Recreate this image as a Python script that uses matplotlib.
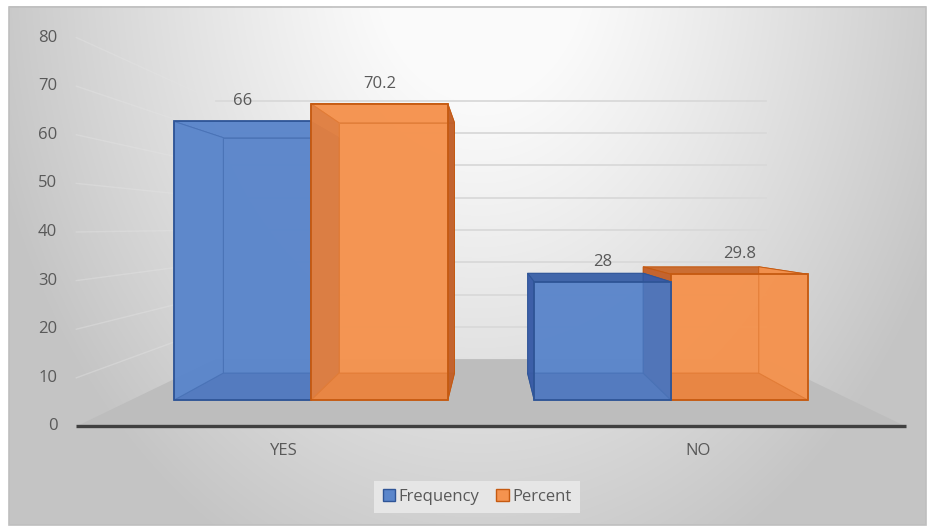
import numpy as np
import matplotlib
matplotlib.use("Agg")
import matplotlib.pyplot as plt
from matplotlib.patches import Polygon, Patch, Rectangle

# ---------------- data ----------------
categories = ["YES", "NO"]
series_names = ["Frequency", "Percent"]
frequency = [66, 28]
percent = [70.2, 29.8]
yticks = [0, 10, 20, 30, 40, 50, 60, 70, 80]

# ---------------- styles ----------------
FONT = "Open Sans"
FS = 12
TXT = "#595959"
series_style = [
    dict(base="#5B86CB", side="#3A5CA6", bottom="#4266AE", top="#3F63A8", edge="#2F5597"),
    dict(base="#F5934F", side="#C0602C", bottom="#D86E2C", top="#C86B30", edge="#C55A11"),
]

W, H = 934, 527
fig = plt.figure(figsize=(W / 100, H / 100), dpi=100)

# ---------------- background gradient ----------------
bg = fig.add_axes([0, 0, 1, 1])
bg.set_axis_off()
yy, xx = np.mgrid[0:H, 0:W]
d = np.sqrt(((xx - 480) / 470.0) ** 2 + ((yy + 40) / 620.0) ** 2)
g = np.clip(260 - 58 * d ** 1.2, 196, 250) / 255.0
outside = (xx < 9) | (xx > 925) | (yy < 6) | (yy > 524)
g[outside] = 1.0
bg.imshow(np.dstack([g, g, g]), extent=(0, W, H, 0), aspect="auto", interpolation="bilinear")
bg.set_xlim(0, W)
bg.set_ylim(H, 0)
bg.add_patch(Rectangle((8.5, 6.5), 917, 518, fill=False, edgecolor="#BFBFBF", lw=1.2))

# ---------------- main (front-plane) axes ----------------
X0PIX, XSCALE = 311.0, 360.0     # pixel x of category 0, pixels per category
Y0PIX, YSCALE = 400.0, 4.22      # pixel y (from top) of value 0, pixels per unit
ax = fig.add_axes([0, 0, 1, 1])
ax.set_axis_off()
ax.patch.set_alpha(0)
ax.set_xlim(-X0PIX / XSCALE, (W - X0PIX) / XSCALE)
ax.set_ylim((Y0PIX - H) / YSCALE, Y0PIX / YSCALE)

VX = 0.5
VV = (Y0PIX - 226.0) / YSCALE
S_FLOOR, S_BAR_BACK, S_WALL = 1.152, 0.845, 0.765
XMIN, XMAX = -0.5, len(categories) - 0.5
BAR_W = 0.38


def proj(x, v, s):
    return (VX + s * (x - VX), VV + s * (v - VV))


# walls gridlines
for t in yticks[1:]:
    p0 = proj(XMIN, t, S_FLOOR)
    p1 = proj(XMIN, t, S_WALL)
    p2 = proj(XMAX, t, S_WALL)
    ax.plot([p0[0], p1[0]], [p0[1], p1[1]], color="#E4E4E4", lw=1.0, alpha=0.4, zorder=1)
    ax.plot([p1[0], p2[0]], [p1[1], p2[1]], color="#D9D9D9", lw=1.3, zorder=1)

# floor
floor = [proj(XMIN, 0, S_FLOOR), proj(XMAX, 0, S_FLOOR), proj(XMAX, 0, S_WALL), proj(XMIN, 0, S_WALL)]
ax.add_patch(Polygon(floor, closed=True, facecolor="#BDBDBD", edgecolor="none", zorder=2))
a0, a1 = proj(XMIN, 0, S_FLOOR), proj(XMAX, 0, S_FLOOR)
ax.plot([a0[0], a1[0]], [a0[1], a1[1]], color="#404040", lw=2.4, zorder=3, solid_capstyle="butt")

# tick labels
for t in yticks:
    p = proj(XMIN, t, S_FLOOR)
    ax.annotate(str(t), p, xytext=(-19, 0), textcoords="offset pixels", ha="right", va="center",
                fontsize=FS, color=TXT, family=FONT, zorder=10)

# category labels
for i, c in enumerate(categories):
    p = proj(i, 0, S_FLOOR)
    ax.annotate(c, p, xytext=(0, -25), textcoords="offset pixels", ha="center", va="center",
                fontsize=FS, color=TXT, family=FONT, zorder=10)


def draw_box(x0, x1, v, st, k, nser, z):
    F = lambda x, y: proj(x, y, 1.0)
    B = lambda x, y: proj(x, y, S_BAR_BACK)
    left_of_viewer = (x0 + x1) / 2 < VX
    faces = []
    faces.append(([B(x0, 0), B(x1, 0), B(x1, v), B(x0, v)], st["base"]))            # back
    faces.append(([F(x0, 0), F(x1, 0), B(x1, 0), B(x0, 0)], st["bottom"]))          # bottom
    top_col = st["base"] if v > VV else st["top"]
    faces.append(([F(x0, v), F(x1, v), B(x1, v), B(x0, v)], top_col))               # top
    left_dark = (not left_of_viewer) or k > 0
    right_dark = left_of_viewer or k < nser - 1
    faces.append(([F(x0, 0), F(x0, v), B(x0, v), B(x0, 0)], st["side"] if left_dark else st["base"]))
    faces.append(([F(x1, 0), F(x1, v), B(x1, v), B(x1, 0)], st["side"] if right_dark else st["base"]))
    for pts, col in faces:
        ax.add_patch(Polygon(pts, closed=True, facecolor=col, edgecolor=st["edge"], lw=0.7,
                             alpha=0.93, zorder=z))
    ax.add_patch(Polygon([F(x0, 0), F(x1, 0), F(x1, v), F(x0, v)], closed=True,
                         facecolor=st["base"], alpha=0.6, edgecolor="none", zorder=z + 0.1))
    ax.add_patch(Polygon([F(x0, 0), F(x1, 0), F(x1, v), F(x0, v)], closed=True,
                         facecolor="none", edgecolor=st["edge"], lw=1.3, zorder=z + 0.2))


series_vals = [frequency, percent]
nser = len(series_vals)
z = 4
for i in range(len(categories)):
    items = []
    for k in range(nser):
        x0 = i - BAR_W * nser / 2 + k * BAR_W
        x1 = x0 + BAR_W
        items.append((abs((x0 + x1) / 2 - VX), k, x0, x1))
    items.sort(reverse=True)
    for _, k, x0, x1 in items:
        draw_box(x0, x1, series_vals[k][i], series_style[k], k, nser, z)
        z += 1
    for k in range(nser):
        x0 = i - BAR_W * nser / 2 + k * BAR_W
        v = series_vals[k][i]
        ax.annotate(f"{v:g}", (x0 + BAR_W / 2, v), xytext=(0, 20), textcoords="offset pixels",
                    ha="center", va="center", fontsize=FS, color=TXT, family=FONT, zorder=20)

# legend
handles = [Patch(facecolor=series_style[k]["base"], edgecolor=series_style[k]["edge"], lw=1.0,
                 label=series_names[k]) for k in range(nser)]
leg = fig.legend(handles=handles, loc="center", bbox_to_anchor=(477 / W, 1 - 497 / H), ncol=2,
                 frameon=True, fancybox=False, framealpha=1, facecolor="#E6E6E6", edgecolor="none",
                 handlelength=0.75, handleheight=0.75, handletextpad=0.2, columnspacing=1.0,
                 borderpad=0.5, prop={"family": FONT, "size": FS})
for t in leg.get_texts():
    t.set_color(TXT)

fig.savefig("out.png", dpi=100)
